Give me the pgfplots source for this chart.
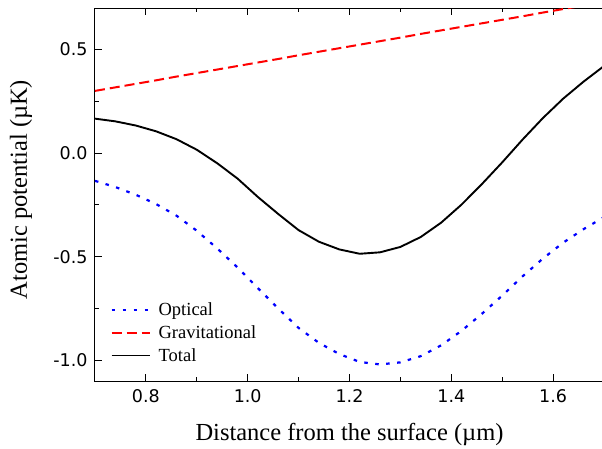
\documentclass[border=0pt]{standalone}
\usepackage{pgfplots}
\pgfplotsset{compat=1.18}
\usepackage{pgfplotstable}
\usepackage{fontspec}
\setmainfont{Liberation Serif}
\newfontfamily\tickfont{DejaVu Sans}

% potential vs distance
\pgfplotstableread{
x     total   grav   optical
0.70  0.166  0.300  -0.134
0.74  0.153  0.317  -0.164
0.78  0.133  0.334  -0.201
0.82  0.105  0.351  -0.246
0.86  0.067  0.369  -0.302
0.90  0.016  0.386  -0.375
0.94 -0.049  0.403  -0.460
0.98 -0.123  0.420  -0.552
1.02 -0.212  0.437  -0.652
1.06 -0.294  0.454  -0.750
1.10 -0.372  0.472  -0.844
1.14 -0.428  0.489  -0.916
1.18 -0.465  0.506  -0.970
1.22 -0.486  0.523  -1.008
1.26 -0.479  0.540  -1.020
1.30 -0.453  0.557  -1.010
1.34 -0.405  0.575  -0.980
1.38 -0.336  0.592  -0.928
1.42 -0.249  0.609  -0.858
1.46 -0.150  0.626  -0.776
1.50 -0.045  0.643  -0.688
1.54  0.065  0.660  -0.595
1.58  0.169  0.678  -0.509
1.62  0.263  0.695  -0.432
1.66  0.345  0.712  -0.367
1.70  0.420  0.729  -0.309
}\potdata

\begin{document}
\begin{tikzpicture}
\begin{axis}[
    scale only axis,
    width=509pt, height=373pt,
    xmin=0.7, xmax=1.7,
    ymin=-1.1, ymax=0.7,
    xtick={0.8,1.0,1.2,1.4,1.6},
    minor xtick={0.9,1.1,1.3,1.5,1.7},
    ytick={-1,-0.5,0,0.5},
    minor ytick={-0.75,-0.25,0.25},
    ytick pos=left,
    tick align=inside,
    major tick length=7pt,
    minor tick length=4pt,
    every tick/.style={black, line width=1pt},
    axis line style={line width=1pt},
    /pgf/number format/assume math mode=true,
    ticklabel style={font=\tickfont\fontsize{17.5}{20}\selectfont,
        /pgf/number format/fixed,
        /pgf/number format/fixed zerofill,
        /pgf/number format/precision=1},
    xticklabel style={yshift=-5pt},
    yticklabel style={xshift=-4pt},
    xlabel={Distance from the surface (µm)},
    ylabel={Atomic potential (µK)},
    label style={font=\fontsize{24.5}{28}\selectfont},
    xlabel style={at={(axis description cs:0.5,0)}, anchor=base, yshift=-59pt},
    ylabel style={at={(axis description cs:-0.1336,0.513)}, anchor=base, rotate=0},
    legend style={at={(axis description cs:0.024,0.038)}, anchor=south west,
        draw=none, fill=none, font=\fontsize{18.5}{21}\selectfont,
        row sep=4.5pt,
        /tikz/every odd column/.append style={column sep=6pt}},
    legend cell align=left,
    legend image code/.code={\draw[#1] (0pt,0pt) -- (38pt,0pt);},
]
\addplot[blue, line width=2.2pt, dash pattern=on 3.5pt off 7.5pt]
    table[x=x, y=optical] {\potdata};
\addlegendentry{Optical}
\addplot[red, line width=2pt, dash pattern=on 10pt off 5pt]
    table[x=x, y=grav] {\potdata};
\addlegendentry{Gravitational}
\addplot[black, line width=1.9pt]
    table[x=x, y=total] {\potdata};
\addlegendentry{Total}
\end{axis}
\pgfresetboundingbox
\path ([shift={(-95pt,-67pt)}]current axis.south west)
    rectangle ([shift={(-2pt,8pt)}]current axis.north east);
\end{tikzpicture}
\end{document}
